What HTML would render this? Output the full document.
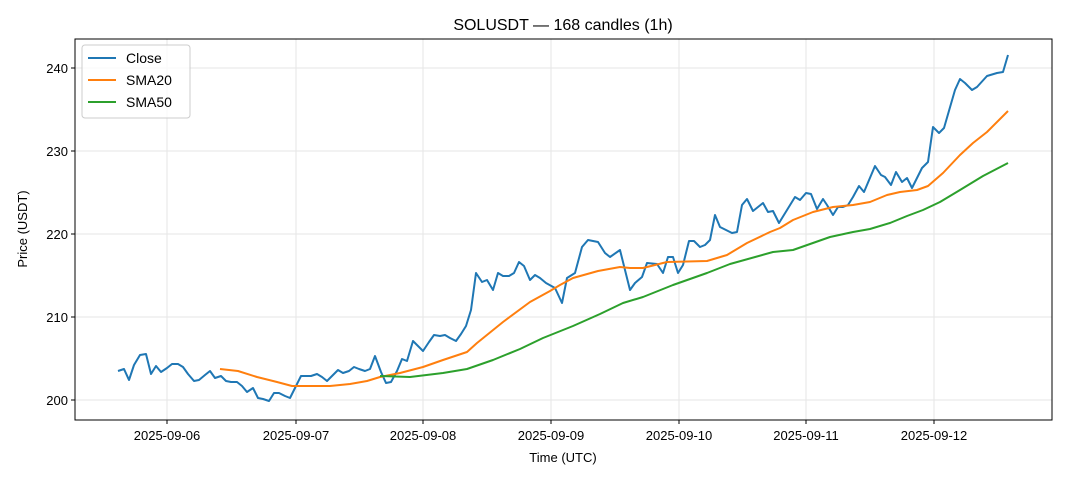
<!DOCTYPE html>
<html><head><meta charset="utf-8"><style>body{margin:0;background:#fff}svg{display:block}text{font-family:"Liberation Sans",sans-serif;fill:#000}</style></head><body>
<svg width="1068" height="481" viewBox="0 0 1068 481">
<rect width="1068" height="481" fill="#fff"/>
<g stroke="#e6e6e6" stroke-width="1">
<line x1="167" y1="39" x2="167" y2="420"/><line x1="296" y1="39" x2="296" y2="420"/><line x1="423" y1="39" x2="423" y2="420"/><line x1="551" y1="39" x2="551" y2="420"/><line x1="679" y1="39" x2="679" y2="420"/><line x1="806" y1="39" x2="806" y2="420"/><line x1="934" y1="39" x2="934" y2="420"/>
<line x1="75" y1="400" x2="1052" y2="400"/><line x1="75" y1="317" x2="1052" y2="317"/><line x1="75" y1="234" x2="1052" y2="234"/><line x1="75" y1="151" x2="1052" y2="151"/><line x1="75" y1="68" x2="1052" y2="68"/>
</g>
<g fill="none" stroke-width="2" stroke-linejoin="round">
<polyline stroke="#1f77b4" points="118,371 124,369 129,380 134,365 140,355 146,354 151,374 156,366 161,372 167,368 172,364 178,364 183,367 188,374 194,381 199,380 205,375 210,371 215,378 221,376 226,381 231,382 237,382 242,386 247,392 253,388 258,398 263,399 269,401 274,393 279,393 285,396 290,398 295,388 301,376 306,376 311,376 317,374 322,377 327,381 333,375 338,370 343,373 349,371 354,367 359,369 365,371 370,369 375,356 381,372 386,383 391,382 397,371 402,359 407,361 413,341 418,346 423,351 429,342 434,335 440,336 445,335 450,338 456,341 461,334 466,326 471,310 476,273 482,282 487,280 493,290 498,273 503,276 509,276 514,273 519,262 524,266 530,280 535,275 540,278 546,283 555,288 562,303 567,278 575,273 582,247 588,240 598,242 605,253 610,257 620,250 630,290 635,283 642,277 647,263 657,264 663,273 668,257 673,257 678,273 683,265 689,241 694,241 700,247 705,245 710,240 715,215 720,227 732,233 737,232 742,205 747,199 753,211 763,203 768,212 773,211 779,223 787,210 795,197 800,200 806,193 811,194 817,209 823,199 827,205 833,215 838,207 843,207 848,205 853,197 859,186 864,192 875,166 881,175 885,177 891,185 896,172 902,182 907,178 912,188 922,168 928,162 933,127 939,133 944,128 955,90 960,79 965,83 972,90 977,87 987,76 997,73 1003,72 1008,55"/>
<polyline stroke="#ff7f0e" points="220,369 238,371 257,377 277,382 292,386 330,386 350,384 367,381 380,377 400,373 423,367 443,360 467,352 477,343 503,322 530,302 550,291 560,285 573,278 598,271 620,267 630,268 643,268 667,262 707,261 727,255 747,243 770,232 780,228 793,220 813,212 833,207 853,205 870,202 887,195 900,192 917,190 928,186 943,173 960,155 973,143 987,132 1008,111"/>
<polyline stroke="#2ca02c" points="380,376 410,377 443,373 467,369 493,360 520,349 543,338 573,326 600,314 623,303 643,297 673,285 707,273 730,264 773,252 793,250 830,237 853,232 870,229 890,223 907,216 923,210 940,202 960,190 983,176 1008,163"/>
</g>
<rect x="75" y="39" width="977" height="381" fill="none" stroke="#000" stroke-width="1"/>
<g stroke="#000"><line x1="167" y1="420" x2="167" y2="424"/><line x1="296" y1="420" x2="296" y2="424"/><line x1="423" y1="420" x2="423" y2="424"/><line x1="551" y1="420" x2="551" y2="424"/><line x1="679" y1="420" x2="679" y2="424"/><line x1="806" y1="420" x2="806" y2="424"/><line x1="934" y1="420" x2="934" y2="424"/>
<line x1="71" y1="400" x2="75" y2="400"/><line x1="71" y1="317" x2="75" y2="317"/><line x1="71" y1="234" x2="75" y2="234"/><line x1="71" y1="151" x2="75" y2="151"/><line x1="71" y1="68" x2="75" y2="68"/></g>
<g font-size="13" text-anchor="middle"><text x="167" y="440">2025-09-06</text><text x="296" y="440">2025-09-07</text><text x="423" y="440">2025-09-08</text><text x="551" y="440">2025-09-09</text><text x="679" y="440">2025-09-10</text><text x="806" y="440">2025-09-11</text><text x="934" y="440">2025-09-12</text></g>
<g font-size="13" text-anchor="end"><text x="68" y="405">200</text><text x="68" y="322">210</text><text x="68" y="239">220</text><text x="68" y="156">230</text><text x="68" y="73">240</text></g>
<text x="563" y="462" font-size="13" text-anchor="middle">Time (UTC)</text>
<text transform="translate(27,229) rotate(-90)" font-size="13" text-anchor="middle">Price (USDT)</text>
<text x="563" y="30" font-size="16" text-anchor="middle">SOLUSDT — 168 candles (1h)</text>
<rect x="82" y="45" width="108" height="73" rx="3" fill="#fff" fill-opacity="0.8" stroke="#ccc"/>
<g stroke-width="2"><line x1="88" y1="58" x2="116" y2="58" stroke="#1f77b4"/><line x1="88" y1="80" x2="116" y2="80" stroke="#ff7f0e"/><line x1="88" y1="102" x2="116" y2="102" stroke="#2ca02c"/></g>
<g font-size="14"><text x="126" y="63">Close</text><text x="126" y="85">SMA20</text><text x="126" y="107">SMA50</text></g>
</svg>
</body></html>
